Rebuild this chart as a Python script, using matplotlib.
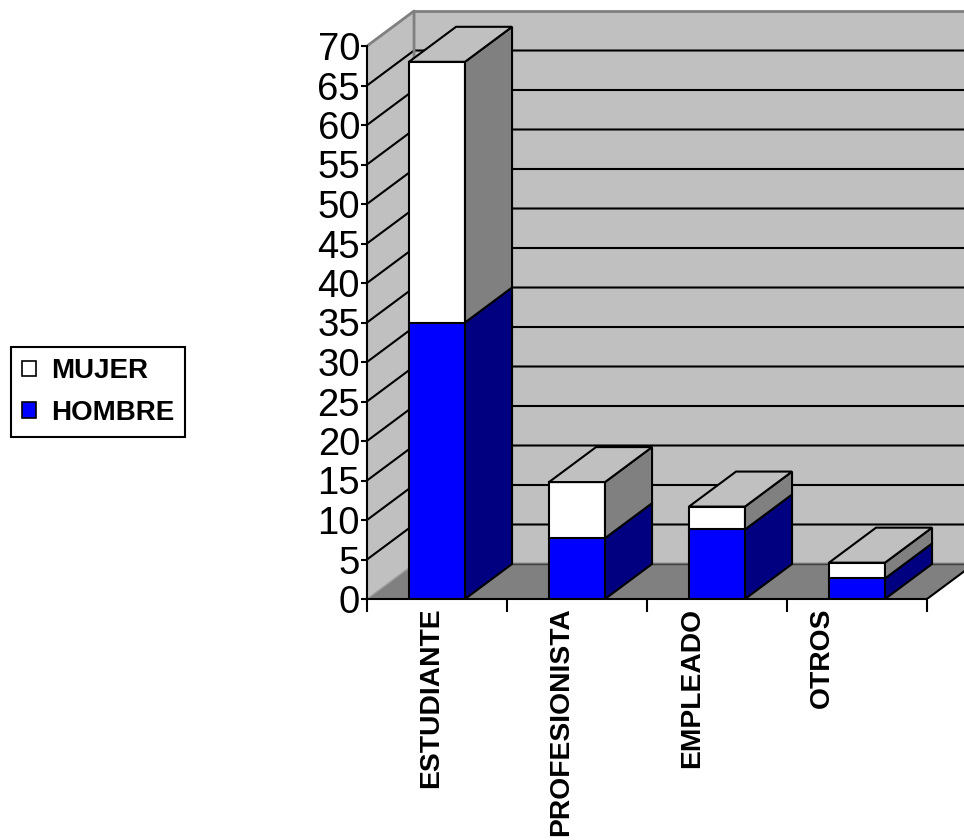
import numpy as np
import matplotlib.pyplot as plt
from matplotlib.patches import Polygon, Patch

plt.rcParams['font.family'] = ['Liberation Sans', 'DejaVu Sans']

# Data
categorias = ["ESTUDIANTE", "PROFESIONISTA", "EMPLEADO", "OTROS"]
hombre = [35, 7.7, 8.8, 2.6]
mujer = [33, 7.1, 2.9, 2.0]
ymax = 70
yticks = list(range(0, 75, 5))

# 3D look: depth offset of the box in data units
DX, DY = 0.336, 4.43
BW = 0.2  # half bar width

fig = plt.figure(figsize=(9.64, 8.4), dpi=100)
ax = fig.add_axes([367 / 964, 241 / 840, 597 / 964, 599 / 840])
ax.set_xlim(-0.5, -0.5 + 597 / 140)
ax.set_ylim(0, 599 / 7.9)

x0, x1 = -0.5, len(categorias) - 0.5

def poly(pts, fc, ec="black", lw=1.5, z=1):
    ax.add_patch(Polygon(pts, closed=True, facecolor=fc, edgecolor=ec,
                         linewidth=lw, zorder=z, joinstyle="miter"))

# walls and floor
poly([(x0, 0), (x0 + DX, DY), (x0 + DX, ymax + DY), (x0, ymax)], "#c0c0c0", ec="none", z=1)
poly([(x0 + DX, DY), (x1 + DX, DY), (x1 + DX, ymax + DY), (x0 + DX, ymax + DY)], "#c0c0c0", ec="none", z=1)
for v in yticks[1:-1]:
    ax.plot([x0, x0 + DX, x1 + DX], [v, v + DY, v + DY], color="black", lw=1.5, zorder=2)
ax.plot([x0, x0 + DX, x0 + DX, x1 + DX], [ymax, ymax + DY, DY, DY],
        color="#808080", lw=2, zorder=2)
ax.plot([x0 + DX, x1 + DX], [ymax + DY, ymax + DY], color="#808080", lw=2, zorder=2)
poly([(x0, 0), (x1, 0), (x1 + DX, DY), (x0 + DX, DY)], "#808080", ec="none", z=3)
ax.plot([x0, x0 + DX], [0, DY], color="#a0a0a0", lw=1, zorder=3)
ax.plot([x0 + DX, x1 + DX], [DY, DY], color="#404040", lw=1, zorder=3)
ax.plot([x1, x1 + DX], [0, DY], color="black", lw=1.5, zorder=3)

# stacked boxes
for i, (h, m) in enumerate(zip(hombre, mujer)):
    segs = [(0, h, "#0000ff", "#000080"), (h, h + m, "#ffffff", "#808080")]
    for b, t, front, side in segs:
        poly([(i - BW, b), (i + BW, b), (i + BW, t), (i - BW, t)], front, z=5)
        poly([(i + BW, b), (i + BW + DX, b + DY), (i + BW + DX, t + DY), (i + BW, t)], side, z=5)
    top = h + m
    poly([(i - BW, top), (i + BW, top), (i + BW + DX, top + DY), (i - BW + DX, top + DY)],
         "#c0c0c0", z=5)

# axes
for s in ["top", "right"]:
    ax.spines[s].set_visible(False)
ax.spines["left"].set_bounds(0, ymax)
ax.spines["bottom"].set_bounds(x0, x1)
for s in ["left", "bottom"]:
    ax.spines[s].set_linewidth(1.5)
    ax.spines[s].set_zorder(6)
ax.set_yticks(yticks)
ax.set_yticklabels([str(v) for v in yticks], fontsize=27.5)
ax.tick_params(axis="y", length=4, width=1.5, pad=1)
ax.set_xticks(np.arange(x0, x1 + 0.01, 1))
ax.set_xticklabels([])
ax.tick_params(axis="x", length=9, width=1.5)

# category labels (Excel spaces them a bit tighter than the columns)
label_x = np.arange(len(categorias)) * 0.93 - 0.04
for lx, name in zip(label_x, categorias):
    ax.text(lx, -1.1, name, rotation=90, ha="center", va="top",
            fontsize=20.3, fontweight="bold", clip_on=False)

handles = [Patch(facecolor="white", edgecolor="black", linewidth=1.2),
           Patch(facecolor="#0000ff", edgecolor="black", linewidth=1.2)]
leg = fig.legend(handles, ["MUJER", "HOMBRE"], loc="center",
                 bbox_to_anchor=(98 / 964, 1 - 392 / 840),
                 prop={"weight": "bold", "size": 20},
                 handlelength=0.5, handleheight=0.5, handletextpad=0.55,
                 borderpad=0.4, labelspacing=0.55, borderaxespad=0,
                 fancybox=False, framealpha=1, edgecolor="black")
leg.get_frame().set_linewidth(1.5)

fig.savefig("out.png", dpi=100)
